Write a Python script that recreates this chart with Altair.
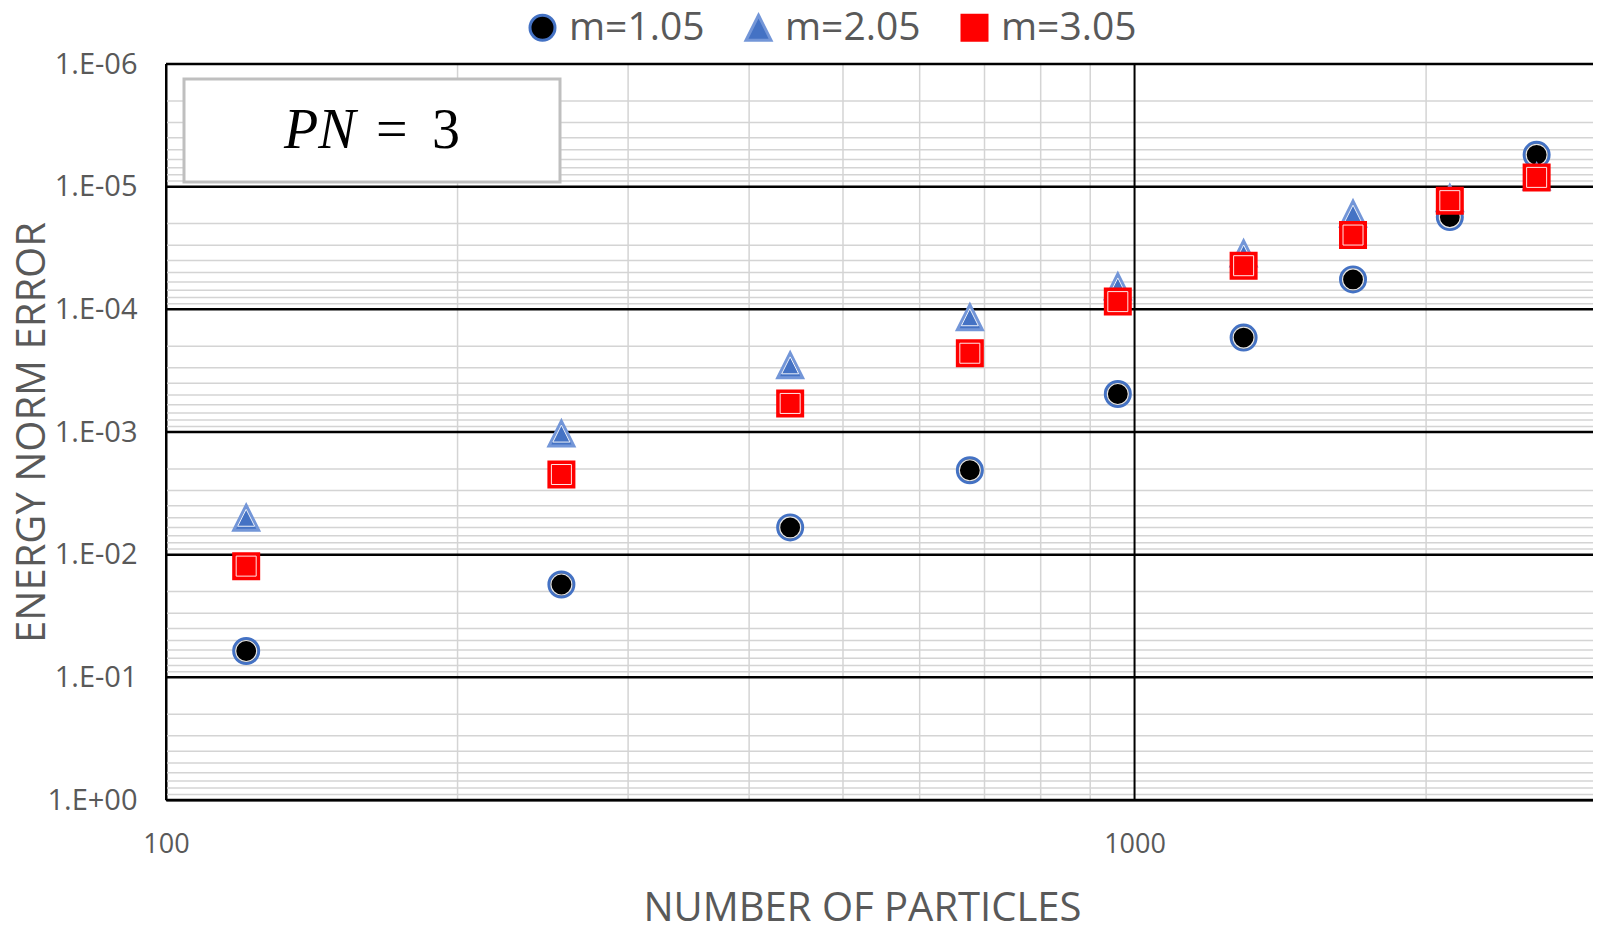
import altair as alt
import pandas as pd

# ---------------- data ----------------
particles = [121, 256, 441, 676, 961, 1296, 1681, 2116, 2601]
err_m105 = [6.1e-2, 1.75e-2, 6.0e-3, 2.05e-3, 4.9e-4, 1.70e-4, 5.7e-5, 1.77e-5, 5.5e-6]
err_m205 = [5.0e-3, 1.03e-3, 2.86e-4, 1.16e-4, 6.5e-5, 3.5e-5, 1.66e-5, 1.24e-5, 8.3e-6]
err_m305 = [1.24e-2, 2.22e-3, 5.85e-4, 2.28e-4, 8.65e-5, 4.41e-5, 2.48e-5, 1.30e-5, 8.4e-6]
series_names = ["m=1.05", "m=2.05", "m=3.05"]

# axis tick / gridline values
y_major = [1e-6, 1e-5, 1e-4, 1e-3, 1e-2, 1e-1, 1.0]
y_minor = [m * 10.0 ** e for e in range(-6, 0) for m in range(2, 10)]
x_major = [100, 1000]
x_minor = [200, 300, 400, 500, 600, 700, 800, 900, 2000]

rows = []
for name, errs in zip(series_names, [err_m105, err_m205, err_m305]):
    for p, e in zip(particles, errs):
        rows.append({"particles": p, "error": e, "series": name})
df = pd.DataFrame(rows)

# ---------------- styling ----------------
W, H = 1427, 736
GRAY_TXT = "#595959"
FONT = "Open Sans"
TRI = "M0,-1L1,1L-1,1Z"

x_scale = alt.Scale(type="log", domain=[100, 2974], nice=False)
y_scale = alt.Scale(type="log", domain=[1e-6, 1], reverse=True, nice=False)

x_axis = alt.Axis(
    values=x_major, format="d", grid=False, ticks=False, tickSize=0,
    domain=True, domainColor="black", domainWidth=2,
    labelFontSize=27, labelPadding=31, labelFlush=False, labelOverlap=False,
    title="NUMBER OF PARTICLES", titleFontSize=40, titleX=696, titleY=108,
    titleBaseline="middle", titleAlign="center",
)
y_axis = alt.Axis(
    values=y_major, grid=False, ticks=False, tickSize=0,
    domain=True, domainColor="black", domainWidth=2,
    labelFontSize=29, labelPadding=29, labelOverlap=False, labelBaseline="middle",
    labelExpr="datum.value >= 1 ? '1.E+00' : '1.E-0' + round(-log(datum.value) / LN10)",
    title="ENERGY NORM ERROR", titleFontSize=40, titleX=-134, titleY=368,
    titleBaseline="middle", titleAlign="center", titleAngle=270,
)


def X(field):
    return alt.X(f"{field}:Q", scale=x_scale, axis=x_axis)


def Y(field):
    return alt.Y(f"{field}:Q", scale=y_scale, axis=y_axis)


legend = alt.Legend(
    title=None, orient="none", direction="horizontal", legendX=357, legendY=-56,
    labelFont=FONT, labelFontSize=39, labelColor=GRAY_TXT, labelOffset=7,
    columnPadding=34, symbolSize=625, symbolStrokeWidth=3,
)
shape_enc = alt.Shape("series:N", scale=alt.Scale(domain=series_names, range=["circle", TRI, "square"]), legend=legend)
fill_enc = alt.Fill("series:N", scale=alt.Scale(domain=series_names, range=["#000000", "#4472C4", "#FF0000"]), legend=legend)
stroke_enc = alt.Stroke("series:N", scale=alt.Scale(domain=series_names, range=["#4472C4", "#7396D8", "#FF0000"]), legend=legend)

# ---------------- grid ----------------
ygrid_minor = alt.Chart(pd.DataFrame({"yv": y_minor})).mark_rule(color="#d4d4d4", strokeWidth=1.5).encode(y=Y("yv"))
xgrid_minor = alt.Chart(pd.DataFrame({"xv": x_minor})).mark_rule(color="#d4d4d4", strokeWidth=1.5).encode(x=X("xv"))
ygrid_major = alt.Chart(pd.DataFrame({"yv": y_major})).mark_rule(color="black", strokeWidth=2.5).encode(y=Y("yv"))
xgrid_major = alt.Chart(pd.DataFrame({"xv": x_major})).mark_rule(color="black", strokeWidth=2).encode(x=X("xv"))

# ---------------- PN = 3 box ----------------
box = alt.Chart(pd.DataFrame({"k": [0]})).mark_rect(
    fill="white", stroke="#bfbfbf", strokeWidth=3
).encode(x=alt.value(18), x2=alt.value(394), y=alt.value(15), y2=alt.value(118))
pn = alt.Chart(pd.DataFrame({"t": ["PN"]})).mark_text(
    font="Liberation Serif", fontStyle="italic", fontSize=56, align="left", baseline="alphabetic", color="black"
).encode(text="t:N", x=alt.value(118), y=alt.value(84))
eq = alt.Chart(pd.DataFrame({"t": ["="]})).mark_text(
    font="Liberation Serif", fontSize=56, align="left", baseline="alphabetic", color="black"
).encode(text="t:N", x=alt.value(210), y=alt.value(84))
three = alt.Chart(pd.DataFrame({"t": ["3"]})).mark_text(
    font="Liberation Serif", fontSize=56, align="left", baseline="alphabetic", color="black"
).encode(text="t:N", x=alt.value(266), y=alt.value(84))

# ---------------- markers ----------------
base = alt.Chart(df)


def series_layers(name, ring_size, ring_width):
    sub = base.transform_filter(alt.datum.series == name)
    main = sub.mark_point(filled=True, size=625, strokeWidth=3, opacity=1).encode(
        x=X("particles"), y=Y("error"), shape=shape_enc, fill=fill_enc, stroke=stroke_enc
    )
    ring = sub.mark_point(filled=False, size=ring_size, strokeWidth=ring_width, color="white", opacity=0.9).encode(
        x=X("particles"), y=Y("error"), shape=shape_enc
    )
    return [main, ring]


marks = series_layers("m=1.05", 441, 1.2) + series_layers("m=2.05", 289, 1.0) + series_layers("m=3.05", 400, 1.0)

chart = alt.layer(
    ygrid_minor, xgrid_minor, ygrid_major, xgrid_major, box, pn, eq, three, *marks
).properties(
    width=W, height=H,
    padding={"left": 158, "top": 56, "right": 0, "bottom": 121},
    autosize=alt.AutoSizeParams(type="none"),
).configure_axis(
    labelFont=FONT, labelColor=GRAY_TXT, titleFont=FONT, titleColor=GRAY_TXT, titleFontWeight="normal"
).configure_view(stroke=None)

chart.save("out.html", embed_options={"renderer": "svg", "actions": False})
